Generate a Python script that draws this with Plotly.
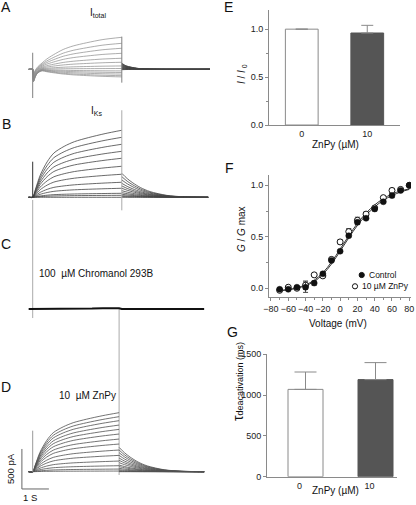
import plotly.graph_objects as go

W, H = 416, 505
FONT = "Arial, Liberation Sans, sans-serif"

# ---------------- Data: current traces (pA, s) ----------------
# activation time course of the IKs/ZnPy traces (fraction of end-of-step current)
ACT_T = [0, 0.1, 0.27, 0.52, 0.76, 1.13, 1.5, 2.0, 2.6, 3.2]
ACT_F = [0, 0.12, 0.33, 0.53, 0.66, 0.76, 0.83, 0.89, 0.95, 1.0]
# tail time course after repolarisation (fraction of tail peak)
TAIL_T = [0, 0.2, 0.41, 0.7, 1.04, 1.67, 2.3, 3.15]
TAIL_F = [1, 0.78, 0.6, 0.4, 0.24, 0.08, 0.02, 0]

# panel A (I total)
A_T = [0, 0.03, 0.1, 0.2, 0.35, 0.52, 0.76, 1.13, 1.5, 2.0, 2.6, 3.3]
A_ACT_F = [0, 0.015, 0.06, 0.12, 0.2, 0.32, 0.45, 0.62, 0.73, 0.83, 0.93, 1.0]
A_DIP_F = [0, 1, 0.55, 0.2, 0, 0, 0, 0, 0, 0, 0, 0]
A_END = [400, 325, 263, 200, 138, 88, 42, 10, -20, -40, -60, -80, -95]
A_DIP = [-60, -70, -80, -90, -100, -110, -120, -130, -140, -150, -150, -150, -150]
A_TAIL = [75, 70, 62, 55, 47, 40, 32, 25, 18, 10, 5, 0, -5]
A_TAIL_T = [0, 0.15, 0.35, 0.6, 1.0, 1.5, 3.27]
A_TAIL_F = [1, 0.6, 0.35, 0.15, 0.04, 0, 0]

# panel B (IKs)
B_END = [838, 750, 663, 575, 488, 388, 288, 188, 113, 50, 25, 0]
B_TAIL = [300, 258, 217, 175, 142, 113, 83, 58, 38, 21, 9, 0]

# panel C (100 uM Chromanol 293B)
C_T = [-0.15, 0, 1.0, 2.2, 2.6, 3.0, 3.2, 3.3, 4.0, 6.35]
C_I = [0, 0, 2, 5, 10, 12, 10, 0, 0, 0]

# panel D (10 uM ZnPy)
D_END = [738, 688, 638, 583, 529, 471, 408, 346, 271, 204, 133, 75, 33, 8]
D_TAIL = [304, 271, 238, 204, 171, 142, 113, 83, 63, 42, 25, 13, 4, 0]

# capacitive artefacts [top, bottom] (pA) at step onset / step end
A_SPK_ON, A_SPK_OFF = [207, -359], [408, -167]
B_SPK_ON, B_SPK_OFF = [445, 0], [1088, -163]
C_SPK_ON, C_SPK_OFF = [1363, -113], [12, -2075]
D_SPK_ON = [513, 0]

SCALE_PA, SCALE_S = 500, 1

# ---------------- Data: summary panels ----------------
E_CAT = ["0", "10"]
E_VAL = [1.0, 0.96]
E_ERR = [0.0, 0.08]

V = [-70, -60, -50, -40, -30, -20, -10, 0, 10, 20, 30, 40, 50, 60, 70, 80]
CTRL = [-0.01, -0.01, 0.01, 0.01, 0.05, 0.14, 0.27, 0.36, 0.51, 0.64, 0.68, 0.77, 0.84, 0.90, 0.95, 1.00]
CTRL_ERR = [0.01, 0.01, 0.01, 0.05, 0.02, 0.01, 0.01, 0.01, 0.01, 0.02, 0.01, 0.02, 0.01, 0.02, 0.01, 0.0]
ZN = [-0.02, 0.01, 0.00, 0.03, 0.13, 0.12, 0.28, 0.45, 0.55, 0.66, 0.72, 0.78, 0.88, 0.95, 0.96, 1.00]
ZN_ERR = [0.01, 0.01, 0.01, 0.04, 0.01, 0.01, 0.02, 0.02, 0.03, 0.03, 0.02, 0.01, 0.01, 0.02, 0.01, 0.0]
FIT_V = [-72, -60, -50, -40, -30, -20, -10, 0, 10, 20, 30, 40, 50, 60, 70, 80]
FIT_CTRL = [-0.025, -0.015, 0.0, 0.025, 0.065, 0.135, 0.235, 0.36, 0.49, 0.61, 0.71, 0.79, 0.855, 0.90, 0.935, 0.96]
FIT_ZN = [-0.025, -0.012, 0.005, 0.033, 0.078, 0.15, 0.255, 0.38, 0.51, 0.63, 0.73, 0.81, 0.87, 0.915, 0.945, 0.965]

G_CAT = ["0", "10"]
G_VAL = [1070, 1190]
G_ERR = [213, 208]

# ---------------- Layout helpers ----------------
def px(x):
    return x / W

def py(y):
    return 1 - y / H

S = 12.5          # pA per pixel in the trace panels
T0_PX, PX_PER_S = 32.7, 27.0
BASE = {"y": 69.3, "y2": 197.3, "y3": 309.0, "y4": 471.7}
END = {"y": 3.3, "y2": 3.3, "y3": 3.2, "y4": 3.2}
LAST = {"y": 6.57, "y2": 6.5, "y3": 6.35, "y4": 6.35}
PRE = -0.15

fig = go.Figure()


def add_lines(ts, ys, yaxis, color, width, shape="spline"):
    xs, vs = [], []
    for t, y in zip(ts, ys):
        xs += list(t) + [None]
        vs += list(y) + [None]
    fig.add_trace(go.Scatter(x=xs, y=vs, mode="lines", xaxis="x", yaxis=yaxis,
                             line=dict(color=color, width=width, shape=shape, smoothing=0.8),
                             connectgaps=False, showlegend=False, hoverinfo="skip"))


def spikes(items, yaxis, color):
    ts, ys = [], []
    for t, (top, bot) in items:
        ts.append([t, t])
        ys.append([top, bot])
    add_lines(ts, ys, yaxis, color, 1, "linear")


def kv_panel(ends, tails, yaxis, color, width):
    te = END[yaxis]
    act_t = [PRE] + [t * te / ACT_T[-1] for t in ACT_T]
    tail_t = [te + t for t in TAIL_T] + [LAST[yaxis]]
    ts, ys = [], []
    for e, tl in zip(ends, tails):
        ts.append(act_t)
        ys.append([0] + [e * f for f in ACT_F])
        ts.append(tail_t)
        ys.append([tl * f for f in TAIL_F] + [0])
    add_lines(ts, ys, yaxis, color, width)


# panel A
ts, ys = [], []
te = END["y"]
for e, d, tl in zip(A_END, A_DIP, A_TAIL):
    ts.append([PRE] + A_T)
    ys.append([0] + [e * a + d * f for a, f in zip(A_ACT_F, A_DIP_F)])
    ts.append([te + t for t in A_TAIL_T])
    ys.append([tl * f for f in A_TAIL_F])
add_lines(ts[0::2], ys[0::2], "y", "#8a8a8a", 0.7)
add_lines(ts[1::2], ys[1::2], "y", "#444444", 0.8)
spikes([(0, A_SPK_ON), (te, A_SPK_OFF)], "y", "#808080")

# panel B
kv_panel(B_END, B_TAIL, "y2", "#444444", 0.8)
spikes([(0, B_SPK_ON)], "y2", "#333333")
spikes([(END["y2"], B_SPK_OFF)], "y2", "#aaaaaa")

# panel C
spikes([(0, C_SPK_ON), (END["y3"], C_SPK_OFF)], "y3", "#aaaaaa")
fig.add_trace(go.Scatter(x=C_T, y=C_I, mode="lines", xaxis="x", yaxis="y3",
                         line=dict(color="#111111", width=2), showlegend=False, hoverinfo="skip"))

# panel D
kv_panel(D_END, D_TAIL, "y4", "#505050", 0.8)
spikes([(0, D_SPK_ON)], "y4", "#999999")

# scale bar in panel D units
sb_t, sb_i = -0.4, -216
fig.add_trace(go.Scatter(x=[sb_t, sb_t, sb_t + SCALE_S], y=[sb_i + SCALE_PA, sb_i, sb_i],
                         mode="lines", xaxis="x", yaxis="y4",
                         line=dict(color="#666666", width=1), showlegend=False, hoverinfo="skip"))

# ---------------- E ----------------
fig.add_trace(go.Bar(x=E_CAT, y=E_VAL, xaxis="x2", yaxis="y5", width=0.5,
                     marker=dict(color=["white", "#555555"], line=dict(color=["#8a8a8a", "#555555"], width=1)),
                     error_y=dict(type="data", symmetric=False, array=E_ERR, arrayminus=[0, 0],
                                  color="#8a8a8a", thickness=1, width=6),
                     showlegend=False, hoverinfo="skip"))

# ---------------- F ----------------
fig.add_trace(go.Scatter(x=FIT_V, y=FIT_CTRL, mode="lines", xaxis="x3", yaxis="y6",
                         line=dict(color="#333333", width=1, shape="spline"), showlegend=False, hoverinfo="skip"))
fig.add_trace(go.Scatter(x=FIT_V, y=FIT_ZN, mode="lines", xaxis="x3", yaxis="y6",
                         line=dict(color="#333333", width=1, shape="spline"), showlegend=False, hoverinfo="skip"))
fig.add_trace(go.Scatter(x=V, y=ZN, mode="markers", xaxis="x3", yaxis="y6",
                         marker=dict(symbol="circle", size=6, color="white", line=dict(color="#111111", width=1)),
                         error_y=dict(type="data", array=ZN_ERR, color="#444444", thickness=1, width=2.5),
                         showlegend=False, hoverinfo="skip"))
fig.add_trace(go.Scatter(x=V, y=CTRL, mode="markers", xaxis="x3", yaxis="y6",
                         marker=dict(symbol="circle", size=6, color="#111111", line=dict(color="#111111", width=0.5)),
                         error_y=dict(type="data", array=CTRL_ERR, color="#444444", thickness=1, width=2.5),
                         showlegend=False, hoverinfo="skip"))

# ---------------- G ----------------
fig.add_trace(go.Bar(x=G_CAT, y=G_VAL, xaxis="x4", yaxis="y7", width=0.5,
                     marker=dict(color=["white", "#555555"], line=dict(color=["#8a8a8a", "#555555"], width=1)),
                     error_y=dict(type="data", symmetric=False, array=G_ERR, arrayminus=[0, 0],
                                  color="#8a8a8a", thickness=1, width=11),
                     showlegend=False, hoverinfo="skip"))

# ---------------- axes ----------------
hidden = dict(visible=False, showgrid=False, zeroline=False, fixedrange=True)
layout_axes = {
    "xaxis": dict(hidden, domain=[0, px(210)],
                  range=[(0 - T0_PX) / PX_PER_S, (210 - T0_PX) / PX_PER_S], anchor="y"),
}
for i, key in enumerate(["y", "y2", "y3", "y4"]):
    name = "yaxis" if key == "y" else "yaxis" + key[1:]
    yb = BASE[key]
    d = dict(hidden, domain=[0, 1], range=[(yb - H) * S, yb * S], anchor="x")
    if key != "y":
        d["overlaying"] = "y"
    layout_axes[name] = d

tickfont = dict(family=FONT, size=9, color="#222222")
axstyle = dict(showline=True, linecolor="#8a8a8a", linewidth=1, ticks="outside", ticklen=3,
               tickcolor="#8a8a8a", tickwidth=1, showgrid=False, zeroline=False, tickfont=tickfont,
               fixedrange=True, tickangle=0, automargin=False)

layout_axes["xaxis2"] = dict(axstyle, domain=[px(269), px(400)], anchor="y5", type="category",
                             range=[-0.5, 1.5], ticks="")
layout_axes["yaxis5"] = dict(axstyle, domain=[py(125), py(10)], anchor="x2", range=[0, 1.2],
                             tickvals=[0, 0.5, 1.0], ticktext=["0.0", "0.5", "1.0"],
                             minor=dict(tickvals=[0.25, 0.75], ticks="outside", ticklen=2, tickcolor="#8a8a8a"))
layout_axes["xaxis3"] = dict(axstyle, domain=[px(269), px(411)], anchor="y6", range=[-82.3, 82.0],
                             tickvals=list(range(-80, 81, 20)),
                             minor=dict(dtick=10, ticks="outside", ticklen=2, tickcolor="#8a8a8a"))
layout_axes["yaxis6"] = dict(axstyle, domain=[py(297), py(175)], anchor="x3", range=[-0.085, 1.10],
                             tickvals=[0, 0.5, 1.0], ticktext=["0.0", "0.5", "1.0"],
                             minor=dict(tickvals=[0.25, 0.75], ticks="outside", ticklen=2, tickcolor="#8a8a8a"))
layout_axes["xaxis4"] = dict(axstyle, domain=[px(267), px(397)], anchor="y7", type="category",
                             range=[-0.55, 1.307], ticks="", ticklabelshift=-6)
layout_axes["yaxis7"] = dict(axstyle, domain=[py(476.7), py(354.3)], anchor="x4", range=[0, 1500],
                             tickvals=[0, 500, 1000, 1500], ticklabelstandoff=0)

# ---------------- annotations ----------------
def ann(text, x, y, size=10, angle=0, xanchor="center", color="#111111"):
    return dict(text=text, x=px(x), y=py(y), xref="paper", yref="paper", showarrow=False,
                xanchor=xanchor, yanchor="middle", textangle=angle,
                font=dict(family=FONT, size=size, color=color))

annotations = [
    ann("A", 6, 7, 14), ann("B", 6, 124, 14), ann("C", 6, 244, 14), ann("D", 6, 387, 14),
    ann("E", 228, 7, 14), ann("F", 229, 168, 14), ann("G", 232, 332, 14),
    ann("I<sub>total</sub>", 98, 13, 10),
    ann("I<sub>Ks</sub>", 96, 111, 10),
    ann("100\u00a0 µM Chromanol 293B", 37, 273, 10, xanchor="left"),
    ann("10\u00a0 µM ZnPy", 57, 395, 10, xanchor="left"),
    ann("500 pA", 10, 469, 9.5, angle=-90),
    ann("1 S", 30, 497, 9.5),
    ann("<i>I</i> / <i>I</i><sub> 0</sub>", 242, 74, 10, angle=-90),
    ann("ZnPy (µM)", 335, 144, 10),
    ann("<i>G</i> / <i>G</i> max", 242, 229, 10, angle=-90),
    ann("Voltage (mV)", 338, 323, 10),
    ann("<span style='font-size:14px'>τ</span>deacativation (ms)", 238, 382, 9, angle=-90),
    ann("ZnPy (µM)", 335, 490, 10),
    ann("Control", 367, 275, 8.5, xanchor="left"),
    ann("10 µM ZnPy", 360, 286, 8.5, xanchor="left"),
]

r = 2.6
shapes = [
    dict(type="circle", xref="paper", yref="paper", x0=px(361.7 - r), x1=px(361.7 + r),
         y0=py(275 + r), y1=py(275 - r), fillcolor="#111111", line=dict(color="#111111", width=1)),
    dict(type="circle", xref="paper", yref="paper", x0=px(355 - r), x1=px(355 + r),
         y0=py(286.3 + r), y1=py(286.3 - r), fillcolor="white", line=dict(color="#111111", width=1)),
]

fig.update_layout(
    width=W, height=H, autosize=False,
    margin=dict(l=0, r=0, t=0, b=0, pad=0),
    paper_bgcolor="white", plot_bgcolor="rgba(0,0,0,0)",
    showlegend=False, annotations=annotations, shapes=shapes,
    font=dict(family=FONT, color="#111111"),
    **layout_axes,
)

fig.write_html("out.html", config={"displayModeBar": False},
               post_script="document.body.style.margin='0';document.body.style.overflow='hidden';")
